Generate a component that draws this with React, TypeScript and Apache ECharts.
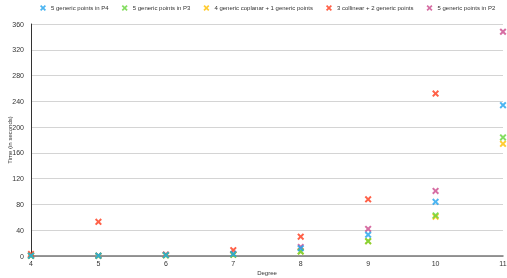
import React, { useEffect, useRef } from "react";
import * as echarts from "echarts";

const degrees = [4, 5, 6, 7, 8, 9, 10, 11];
const seriesNames = [
  "5 generic points in P4",
  "5 generic points in P3",
  "4 generic coplanar + 1 generic points",
  "3 collinear + 2 generic points",
  "5 generic points in P2",
];
const p4Values = [0.5, 0.5, 1.5, 3, 12, 33, 84, 234];
const p3Values = [0.3, 0.3, 1, 2, 7, 23, 63, 184];
const coplanarValues = [0.3, 0.3, 1, 2, 7, 23, 61, 174];
const collinearValues = [3, 53, 2, 9, 30, 88, 252, null];
const p2Values = [1, 0.5, 2, 3, 14, 42, 101, 348];
const colors = ["#1fa3ee", "#66d43a", "#ffbf00", "#ff3a1a", "#cc4a8c"];
const yTicks = { min: 0, max: 360, interval: 40 };

const X_PATH =
  "path://M0,2 L2,0 L5,3 L8,0 L10,2 L7,5 L10,8 L8,10 L5,7 L2,10 L0,8 L3,5 Z";

export default function App() {
  const ref = useRef<HTMLDivElement>(null);
  useEffect(() => {
    if (!ref.current) return;
    const chart = echarts.init(ref.current, undefined, { renderer: "svg" });
    const all = [p4Values, p3Values, coplanarValues, collinearValues, p2Values];
    chart.setOption({
      animation: false,
      textStyle: { fontFamily: "Liberation Sans, Arial, sans-serif" },
      legend: {
        top: 0,
        left: 35,
        itemWidth: 6,
        itemHeight: 6,
        itemGap: 13,
        icon: X_PATH,
        textStyle: { fontSize: 6, color: "#333" },
        data: seriesNames,
      },
      grid: {
        left: 31,
        right: 4,
        top: 24,
        bottom: 22,
        containLabel: false,
        outerBoundsMode: "none",
      },
      xAxis: {
        type: "value",
        min: 4,
        max: 11,
        interval: 1,
        name: "Degree",
        nameLocation: "middle",
        nameGap: 14,
        nameMoveOverlap: false,
        nameTextStyle: { fontSize: 6, color: "#333" },
        axisLine: { lineStyle: { color: "#777", width: 1.5 } },
        axisTick: { show: false },
        axisLabel: { fontSize: 7, color: "#333", margin: 4 },
        splitLine: { show: false },
      },
      yAxis: {
        type: "value",
        min: yTicks.min,
        max: yTicks.max,
        interval: yTicks.interval,
        name: "Time (in seconds)",
        nameLocation: "middle",
        nameGap: 18,
        nameMoveOverlap: false,
        nameTextStyle: { fontSize: 6, color: "#333" },
        axisLine: { show: true, lineStyle: { color: "#333", width: 1 } },
        axisTick: { show: false },
        axisLabel: { fontSize: 7, color: "#333", margin: 7 },
        splitLine: { lineStyle: { color: "#d4d4d4", width: 1 } },
      },
      series: seriesNames.map((name, i) => ({
        name,
        type: "scatter",
        symbol: X_PATH,
        symbolSize: 7,
        z: 10 - i,
        itemStyle: { color: colors[i] },
        data: degrees
          .map((d, j) => [d, all[i][j]])
          .filter((p) => p[1] !== null),
      })),
    });
    return () => chart.dispose();
  }, []);
  return (
    <div
      ref={ref}
      style={{ position: "fixed", left: 0, top: 0, width: 507, height: 278 }}
    />
  );
}
